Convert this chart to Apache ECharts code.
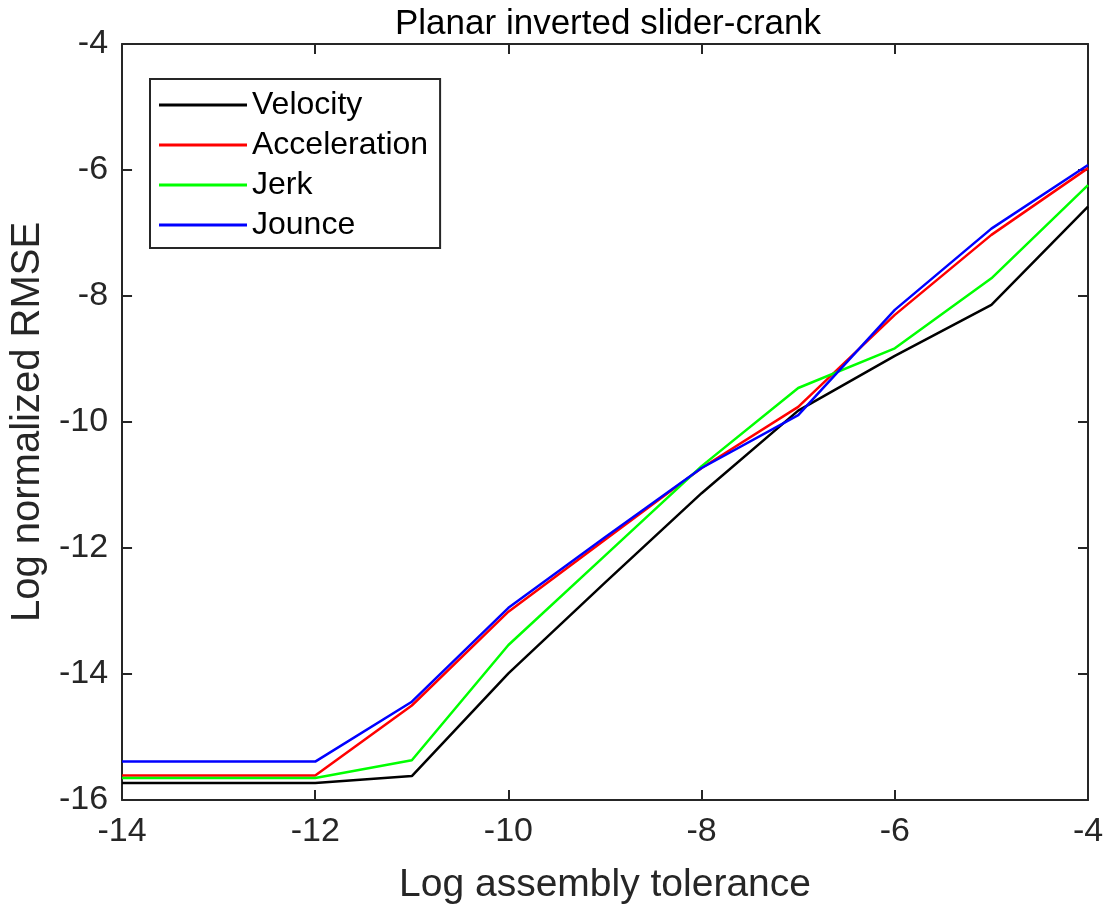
<!DOCTYPE html>
<html>
<head>
<meta charset="utf-8">
<script src="https://cdn.jsdelivr.net/npm/echarts@6/dist/echarts.min.js"></script>
<style>html,body{margin:0;padding:0;background:#fff}#c{width:1109px;height:913px}</style>
</head>
<body>
<div id="c"></div>
<script>
var tolerance = [-14, -12, -11, -10, -9, -8, -7, -6, -5, -4];
var velocity = [-15.73, -15.73, -15.62, -13.99, -12.55, -11.13, -9.82, -8.95, -8.14, -6.58];
var acceleration = [-15.61, -15.61, -14.50, -13.01, -11.87, -10.73, -9.76, -8.30, -7.03, -5.97];
var jerk = [-15.65, -15.65, -15.37, -13.54, -12.12, -10.70, -9.46, -8.83, -7.72, -6.24];
var jounce = [-15.39, -15.39, -14.44, -12.95, -11.83, -10.73, -9.89, -8.22, -6.93, -5.92];
var seriesNames = ['Velocity', 'Acceleration', 'Jerk', 'Jounce'];
var seriesColors = ['#000000', '#ff0000', '#00ff00', '#0000ff'];
var seriesValues = [velocity, acceleration, jerk, jounce];

function pairs(ys) { return tolerance.map(function (x, i) { return [x, ys[i]]; }); }

var FONT = '"Liberation Sans", Arial, Helvetica, sans-serif';
var AX = '#262626';
var chart = echarts.init(document.getElementById('c'), null, {renderer: 'canvas'});

var baseAxis = {
  type: 'value',
  axisLine: {show: true, onZero: false, lineStyle: {color: AX, width: 2}},
  axisTick: {show: true, inside: true, length: 10, lineStyle: {color: AX, width: 2}},
  splitLine: {show: false}
};

chart.setOption({
  animation: false,
  backgroundColor: '#ffffff',
  title: {
    text: 'Planar inverted slider-crank',
    left: 603, top: 2, textAlign: 'center',
    textStyle: {fontFamily: FONT, fontSize: 35, fontWeight: 'normal', color: '#000'}
  },
  grid: {left: 122, right: 21, top: 44, bottom: 113, containLabel: false},
  xAxis: [
    Object.assign({}, baseAxis, {
      min: -14, max: -4, interval: 2, position: 'bottom',
      name: 'Log assembly tolerance', nameLocation: 'middle', nameGap: 66,
      nameTextStyle: {fontFamily: FONT, fontSize: 39, color: AX},
      axisLabel: {fontFamily: FONT, fontSize: 34, color: AX, margin: 15}
    }),
    Object.assign({}, baseAxis, {
      min: -14, max: -4, interval: 2, position: 'top', axisLabel: {show: false}
    })
  ],
  yAxis: [
    Object.assign({}, baseAxis, {
      min: -16, max: -4, interval: 2, position: 'left',
      name: 'Log normalized RMSE', nameLocation: 'middle', nameGap: 70,
      nameTextStyle: {fontFamily: FONT, fontSize: 40, color: AX},
      axisLabel: {fontFamily: FONT, fontSize: 34, color: AX, margin: 14}
    }),
    Object.assign({}, baseAxis, {
      min: -16, max: -4, interval: 2, position: 'right', axisLabel: {show: false}
    })
  ],
  legend: {
    left: 150, top: 79, orient: 'vertical',
    data: seriesNames.map(function (n) { return {name: n, icon: 'rect'}; }),
    itemWidth: 88, itemHeight: 3, itemGap: 8,
    padding: [10, 12, 7, 9],
    borderColor: AX, borderWidth: 2, backgroundColor: '#fff',
    textStyle: {fontFamily: FONT, fontSize: 32, color: '#000', lineHeight: 32}
  },
  series: seriesNames.map(function (n, i) {
    return {
      name: n, type: 'line', symbol: 'none', showSymbol: false,
      data: pairs(seriesValues[i]),
      lineStyle: {color: seriesColors[i], width: 2.5},
      itemStyle: {color: seriesColors[i]}
    };
  })
});
</script>
</body>
</html>
